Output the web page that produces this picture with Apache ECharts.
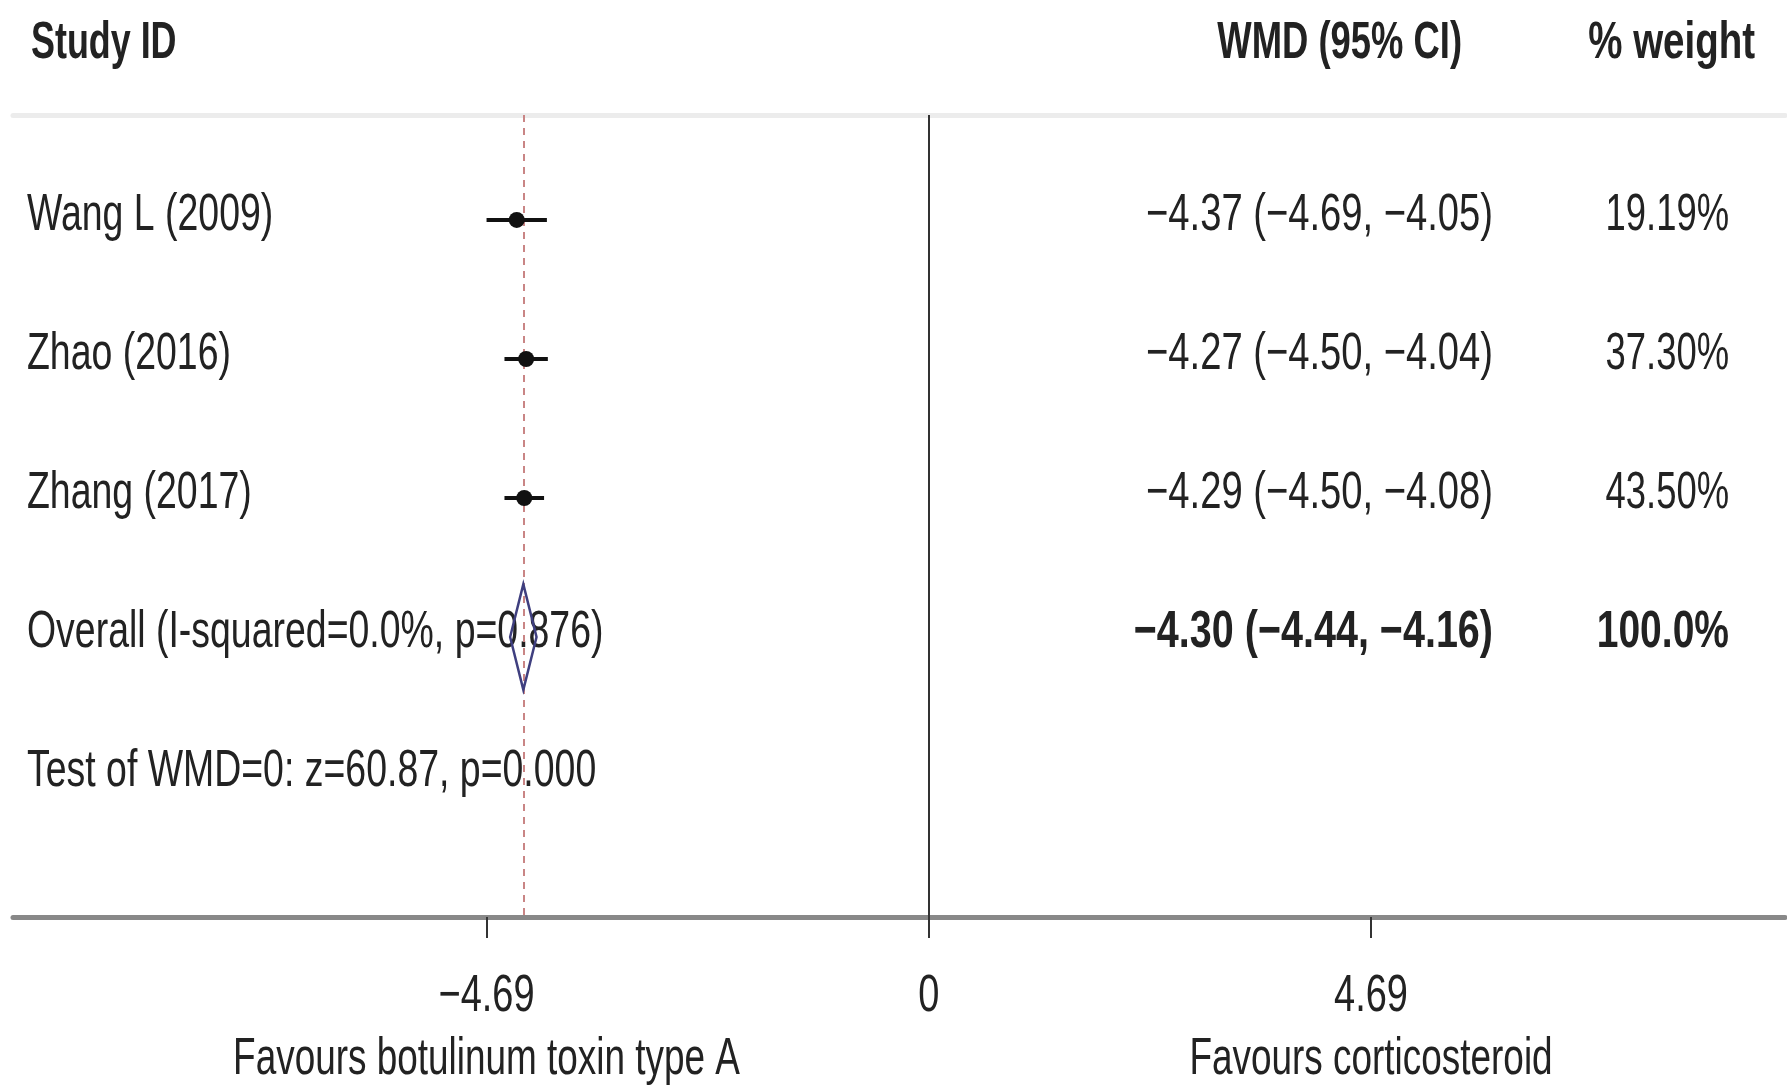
<!DOCTYPE html>
<html>
<head>
<meta charset="utf-8">
<script src="https://cdn.jsdelivr.net/npm/echarts@6/dist/echarts.min.js"></script>
<style>
html,body{margin:0;padding:0;background:#fff;}
#chart{width:1787px;height:1092px;}
</style>
</head>
<body>
<div id="chart"></div>
<script>
// ---------- data ----------
const studies = ['Wang L (2009)', 'Zhao (2016)', 'Zhang (2017)'];
const wmd = [-4.37, -4.27, -4.29];
const ciLow = [-4.69, -4.50, -4.50];
const ciHigh = [-4.05, -4.04, -4.08];
const weights = ['19.19%', '37.30%', '43.50%'];
const overallLabel = 'Overall (I-squared=0.0%, p=0.876)';
const overallWmd = -4.30;
const overallLow = -4.44;
const overallHigh = -4.16;
const overallWeight = '100.0%';
const testLabel = 'Test of WMD=0: z=60.87, p=0.000';
const headers = ['Study ID', 'WMD (95% CI)', '% weight'];
const xTicks = [-4.69, 0, 4.69];
const xTickLabels = ['\u22124.69', '0', '4.69'];
const xTitles = ['Favours botulinum toxin type A', '', 'Favours corticosteroid'];

// ---------- helpers ----------
const FONT = '"Liberation Sans", Arial, sans-serif';
const FS = 52;
const TXT = '#222';
function fmt(v) { return (v < 0 ? '\u2212' : '') + Math.abs(v).toFixed(2); }
function ciText(m, l, h) { return fmt(m) + ' (' + fmt(l) + ', ' + fmt(h) + ')'; }
function textEl(x, y, text, o) {
  return {
    type: 'text', x: x, y: y, scaleX: o.sx || 0.72,
    style: {
      text: text, fontFamily: FONT, fontSize: o.size || FS,
      fontWeight: o.bold ? 'bold' : 'normal', fill: TXT,
      align: o.align || 'left', verticalAlign: 'middle'
    }
  };
}

// table rows
const rowLabels = studies.concat([overallLabel, testLabel]);
const rowCI = studies.map((s, i) => ciText(wmd[i], ciLow[i], ciHigh[i]))
  .concat([ciText(overallWmd, overallLow, overallHigh), '']);
const rowW = weights.concat([overallWeight, '']);
const rowBold = [false, false, false, true, false];

const X_MIN = -9.712, X_MAX = 9.08;
const Y_MIN = -0.755, Y_MAX = 5.014;
const TEXT_DY = -4;

const chart = echarts.init(document.getElementById('chart'));
chart.setOption({
  animation: false,
  backgroundColor: '#fff',
  grid: { left: 13, right: 2, top: 115, bottom: 175 },
  xAxis: [{
    type: 'value', min: X_MIN, max: X_MAX, position: 'bottom',
    axisLine: { show: true, onZero: false, lineStyle: { color: '#888', width: 5 } },
    axisTick: { show: true, customValues: xTicks, length: 21, lineStyle: { color: '#333', width: 2 } },
    axisLabel: { show: false },
    splitLine: { show: false }
  }, {
    type: 'value', min: X_MIN, max: X_MAX, position: 'top',
    axisLine: { show: true, onZero: false, lineStyle: { color: '#ececec', width: 5 } },
    axisTick: { show: false }, axisLabel: { show: false }, splitLine: { show: false }
  }],
  yAxis: {
    type: 'value', inverse: true, min: Y_MIN, max: Y_MAX, show: false,
    splitLine: { show: false }
  },
  graphic: [
    textEl(31, 44, headers[0], { bold: true, sx: 0.69 }),
    textEl(1462, 44, headers[1], { bold: true, sx: 0.70, align: 'right' }),
    textEl(1755, 44, headers[2], { bold: true, sx: 0.74, align: 'right' })
  ],
  series: [
    // reference lines
    {
      type: 'scatter', data: [], z: 1,
      markLine: {
        silent: true, symbol: 'none', label: { show: false },
        data: [
          { xAxis: 0, lineStyle: { color: '#333', width: 2, type: 'solid' } },
          { xAxis: overallWmd, lineStyle: { color: '#c98585', width: 2, type: [7, 6] } }
        ]
      }
    },
    // study CIs and point estimates
    {
      type: 'custom', z: 5,
      data: studies.map((s, i) => [ciLow[i], ciHigh[i], wmd[i], i]),
      renderItem: function (params, api) {
        const row = api.value(3);
        const p1 = api.coord([api.value(0), row]);
        const p2 = api.coord([api.value(1), row]);
        const pc = api.coord([api.value(2), row]);
        return {
          type: 'group', children: [
            { type: 'line', shape: { x1: p1[0], y1: p1[1], x2: p2[0], y2: p2[1] }, style: { stroke: '#111', lineWidth: 4 } },
            { type: 'circle', shape: { cx: pc[0], cy: pc[1], r: 8 }, style: { fill: '#111' } }
          ]
        };
      }
    },
    // overall diamond
    {
      type: 'custom', z: 5,
      data: [[overallLow, overallHigh, overallWmd, 3]],
      renderItem: function (params, api) {
        const row = api.value(3);
        const pl = api.coord([api.value(0), row]);
        const pr = api.coord([api.value(1), row]);
        const pc = api.coord([api.value(2), row]);
        const h = api.size([0, 0.38])[1];
        return {
          type: 'polygon',
          shape: { points: [pl, [pc[0], pc[1] - h], pr, [pc[0], pc[1] + h]] },
          style: { fill: 'none', stroke: '#3f3f7f', lineWidth: 2.5 }
        };
      }
    },
    // table text
    {
      type: 'custom', z: 4, clip: false,
      data: rowLabels.map((s, i) => [0, i]),
      renderItem: function (params, api) {
        const i = params.dataIndex;
        const y = api.coord([0, api.value(1)])[1] + TEXT_DY;
        const b = rowBold[i];
        const kids = [textEl(27, y, rowLabels[i], { sx: 0.72 })];
        if (rowCI[i]) kids.push(textEl(1493, y, rowCI[i], { sx: b ? 0.76 : 0.734, bold: b, align: 'right' }));
        if (rowW[i]) kids.push(textEl(1729, y, rowW[i], { sx: b ? 0.75 : 0.70, bold: b, align: 'right' }));
        return { type: 'group', children: kids };
      }
    },
    // x tick labels and axis titles
    {
      type: 'custom', z: 4, clip: false,
      data: xTicks.map((v, i) => [v, i]),
      renderItem: function (params, api) {
        const i = params.dataIndex;
        const p = api.coord([api.value(0), Y_MAX]);
        const kids = [textEl(p[0], p[1] + 80, xTickLabels[i], { sx: 0.73, align: 'center' })];
        if (xTitles[i]) kids.push(textEl(p[0], p[1] + 143, xTitles[i], { sx: 0.71, align: 'center' }));
        return { type: 'group', children: kids };
      }
    }
  ]
});
</script>
</body>
</html>
